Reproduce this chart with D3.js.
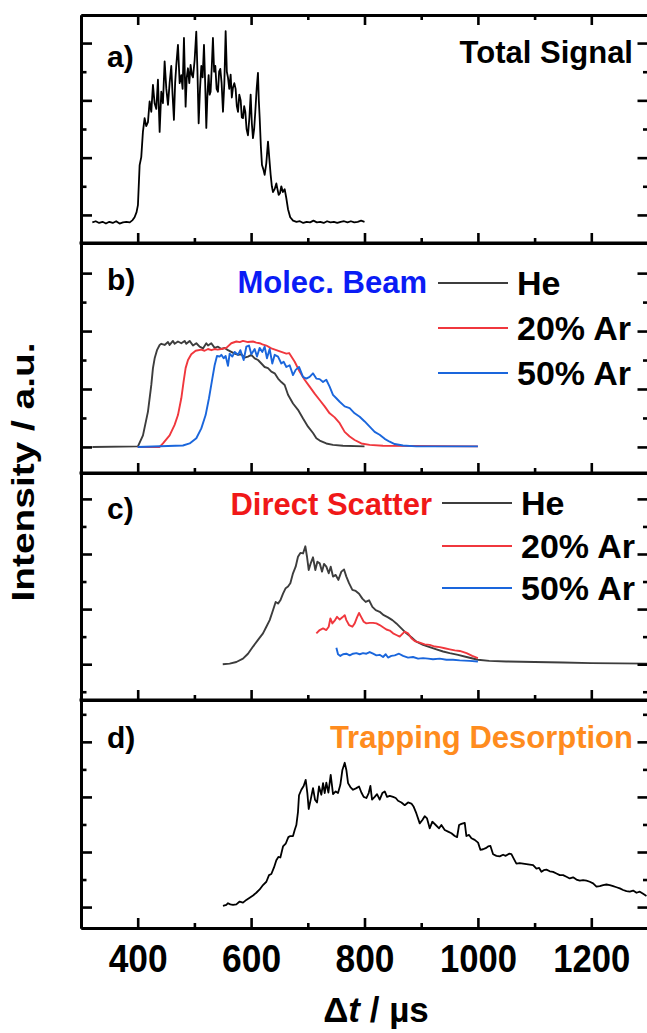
<!DOCTYPE html>
<html>
<head>
<meta charset="utf-8">
<script src="https://cdnjs.cloudflare.com/ajax/libs/d3/7.8.5/d3.min.js"></script>
<style>
	html, body { margin: 0; padding: 0; background: #fff; }
	svg text { font-family: "Liberation Sans", Arial, Helvetica, sans-serif; font-weight: bold; }
</style>
</head>
<body>
<svg id="chart" width="647" height="1033"></svg>
<script>
"use strict";

// time axis, in microseconds
const xMajorTicks = [400, 600, 800, 1000, 1200];
const xMinorTicks = [500, 700, 900, 1100];
const legendNames = ["He", "20% Ar", "50% Ar"];

// [t (µs), intensity (a.u.)]
const totalSignal = [[320,-0.13],[326,-0.11],[332,-0.14],[338,-0.12],[344,-0.15],[350,-0.12],[356,-0.14],[362,-0.11],[368,-0.15],[374,-0.13],[380,-0.12],[386,-0.13],[391,-0.09],[394.5,-0.04],[398,0.05],[400.4,0.17],[403.4,0.87],[406.3,1.01],[409.2,1.45],[412.2,1.69],[415,1.55],[418.1,1.62],[421,1.98],[424,1.8],[426.9,2.27],[429.8,1.95],[432.8,1.85],[435.7,2.36],[438.7,1.45],[441.6,2.15],[444.5,1.95],[447.5,2.68],[450.5,2.2],[453.4,1.92],[456.3,2.3],[459.2,2.6],[461.5,2.1],[463.9,1.66],[466,2.3],[468.1,2.62],[471,2.97],[474,2.3],[476.9,2.44],[479.2,2.2],[481.6,3.09],[484.5,1.89],[486.5,2.4],[488.6,2.56],[491,2.3],[493.3,2.62],[495.4,2.45],[497.5,2.4],[500.4,2.7],[503.3,3.2],[505.4,2.5],[507.5,1.6],[509.9,2.2],[512.2,2.6],[514.5,2.4],[516.9,2.97],[519,2.3],[521,1.52],[523,2.1],[525.1,2.44],[526.9,2.1],[528.6,2.15],[530.7,2.6],[532.7,3.09],[534.8,2.5],[536.9,2.6],[539.2,2.2],[541.6,2.15],[543.6,2.5],[545.7,2.55],[548,2.3],[550.4,1.8],[552.8,2.3],[555.1,3.21],[557.2,2.5],[559.2,2.4],[561.5,2.2],[563.9,2.45],[566,2.05],[568,2.22],[570.4,2.3],[572.7,2.2],[574.8,1.9],[576.9,1.8],[579.2,2.1],[581.6,2.0],[583.6,1.7],[585.7,1.69],[587.8,1.9],[589.8,1.8],[592,1.5],[594.5,1.39],[597,1.7],[599.2,2.1],[601.3,1.6],[603.3,1.34],[605.4,1.5],[607.4,1.8],[609.8,2.2],[612.1,2.48],[613.6,2.0],[615.1,1.7],[617.2,1.2],[619.2,0.87],[621.5,0.8],[623.9,0.7],[626.8,0.9],[629.8,1.28],[632,1.0],[634.5,0.7],[636.6,0.5],[638.6,0.4],[641.5,0.45],[644.5,0.55],[646.5,0.45],[648.6,0.35],[651,0.38],[653.3,0.5],[656,0.4],[659.2,0.45],[662,0.3],[665.1,0.1],[669,-0.04],[674,-0.1],[680,-0.12],[686,-0.11],[692,-0.14],[698,-0.12],[704,-0.13],[710,-0.1],[716,-0.13],[722,-0.12],[728,-0.14],[734,-0.11],[740,-0.13],[746,-0.12],[752,-0.14],[758,-0.12],[764,-0.11],[770,-0.13],[776,-0.11],[782,-0.13],[788,-0.12],[794,-0.1],[800,-0.12]];

const beamHe = [[320,0],[400.4,0.01],[409.3,0.2],[418.1,0.61],[424,1.07],[426.9,1.36],[429.9,1.53],[434,1.67],[438.7,1.76],[441.6,1.78],[447.5,1.76],[453.4,1.81],[456.3,1.76],[462.2,1.83],[465.1,1.78],[471,1.82],[476.9,1.79],[482.8,1.83],[485.7,1.78],[491.6,1.83],[497.5,1.75],[503.4,1.79],[509.2,1.73],[515.1,1.7],[521,1.79],[524,1.75],[529.8,1.79],[535.7,1.71],[541.6,1.73],[547.5,1.69],[553.4,1.71],[559.2,1.67],[565.1,1.64],[571,1.61],[576.9,1.59],[582.8,1.6],[588.6,1.54],[594.5,1.56],[600.4,1.59],[606.3,1.53],[612.2,1.5],[618.1,1.44],[623.9,1.38],[629.8,1.36],[635.7,1.3],[641.6,1.27],[647.5,1.18],[653.3,1.12],[659.2,1.07],[665.1,0.9],[673.9,0.75],[682.7,0.64],[691.6,0.49],[700.4,0.35],[709.2,0.24],[715.1,0.15],[721,0.11],[732.6,0.06],[744.4,0.035],[762,0.02],[800,0.01]];

const beamAr20 = [[400,0],[438.7,0],[444.6,0.06],[456.3,0.2],[465.1,0.38],[471,0.55],[476.9,0.84],[481,1.13],[484.5,1.36],[488.7,1.5],[494.5,1.6],[502.2,1.66],[512.2,1.68],[518,1.66],[524,1.69],[530,1.67],[535.7,1.69],[541,1.68],[547.5,1.69],[556.3,1.71],[565.1,1.79],[574,1.82],[580,1.81],[585.7,1.83],[594.5,1.81],[603.3,1.82],[609,1.8],[615.1,1.79],[620,1.77],[626.9,1.75],[635.7,1.7],[644.5,1.67],[653.3,1.64],[662.2,1.61],[667,1.62],[671,1.56],[676.9,1.47],[685.6,1.3],[694.4,1.16],[703.2,1.04],[712.1,0.92],[720.9,0.81],[729.7,0.7],[738.5,0.58],[747.4,0.51],[756.2,0.41],[765,0.26],[773.8,0.18],[782.6,0.12],[794.4,0.06],[809.1,0.035],[832.6,0.02],[1000,0.01]];

const beamAr50 = [[400,0],[479.8,0.025],[491.6,0.06],[503.4,0.15],[512.2,0.32],[519.8,0.55],[525.7,0.84],[531.6,1.18],[535.7,1.41],[539.8,1.57],[544.5,1.56],[547.5,1.59],[551.6,1.53],[555.1,1.57],[559.2,1.4],[562.2,1.61],[566.9,1.56],[571,1.64],[576.9,1.59],[581,1.67],[586.9,1.5],[591.6,1.73],[596.3,1.75],[600.4,1.6],[606.3,1.69],[610.4,1.56],[615.1,1.71],[619.8,1.64],[623.9,1.73],[628,1.53],[632.7,1.69],[637.4,1.44],[641.6,1.59],[647.5,1.56],[653.3,1.44],[657.4,1.47],[662.2,1.38],[668,1.41],[673.9,1.24],[678.6,1.33],[684.5,1.38],[691.5,1.21],[697.4,1.18],[703.2,1.21],[709.1,1.27],[715,1.18],[720.9,1.17],[726.8,1.12],[732.6,1.16],[738.5,1.04],[744.4,0.9],[750.3,0.84],[756.2,0.78],[765,0.7],[773.8,0.67],[782.6,0.58],[791.5,0.52],[800.3,0.44],[809.1,0.35],[817.9,0.26],[826.7,0.21],[835.6,0.14],[844.4,0.09],[853.2,0.05],[867.9,0.025],[891.4,0.01],[1000,0.01]];

const scatterHe = [[550,0],[562.2,0.01],[574,0.04],[585.7,0.1],[594.5,0.19],[603.4,0.32],[612.2,0.44],[621,0.56],[626.9,0.68],[632.8,0.8],[638.6,0.98],[643.3,1.13],[647.5,1.1],[651.6,1.16],[656.3,1.28],[661,1.38],[665.1,1.41],[669.2,1.47],[673.9,1.65],[678.6,1.77],[682.7,1.95],[686.9,2.02],[691.6,2.01],[695.7,2.14],[698.6,1.95],[701.6,1.71],[705.1,1.83],[709.2,1.94],[713.3,1.71],[716.9,1.86],[721,1.83],[725.1,1.68],[728.6,1.82],[732.7,1.77],[736.9,1.65],[740.4,1.77],[744.5,1.59],[749.2,1.62],[753.9,1.53],[759.2,1.68],[763.9,1.72],[768,1.59],[772.7,1.47],[778.6,1.35],[784.5,1.33],[790.4,1.28],[796.2,1.19],[802.1,1.13],[808,1.16],[813.9,1.04],[819.8,0.98],[826.8,0.95],[833.9,0.89],[841.5,0.85],[849.2,0.8],[856.2,0.74],[865,0.65],[873.9,0.56],[882.7,0.49],[891.5,0.41],[903.3,0.35],[915,0.31],[926.8,0.27],[938.6,0.23],[950.3,0.2],[965,0.17],[980,0.13],[1000,0.08],[1020,0.06],[1050,0.05],[1100,0.04],[1150,0.03],[1200,0.02],[1250,0.015],[1300,0.01]];

const scatterAr20 = [[715.1,0.56],[721,0.62],[726.9,0.65],[732.7,0.62],[736.9,0.68],[739.8,0.83],[743.3,0.74],[747.4,0.79],[751.6,0.86],[756.3,0.81],[761,0.85],[765.1,0.89],[768,0.8],[772.7,0.71],[778.6,0.68],[782.7,0.74],[786.8,0.85],[790.4,0.93],[794.5,0.85],[798.6,0.77],[803.3,0.74],[809.2,0.75],[815.1,0.75],[821,0.74],[826.8,0.71],[832.7,0.67],[838.6,0.63],[844.5,0.61],[850.4,0.56],[856.2,0.53],[862.1,0.5],[866.8,0.55],[870.9,0.59],[876.8,0.56],[882.7,0.47],[888.6,0.42],[897.4,0.39],[906.2,0.36],[915,0.35],[923.9,0.32],[932.7,0.31],[941.5,0.29],[950.3,0.27],[959.2,0.25],[968,0.24],[980,0.2],[990,0.15],[1000,0.11]];

const scatterAr50 = [[750.4,0.3],[753.3,0.18],[757.4,0.15],[762.1,0.18],[768,0.19],[773.9,0.16],[779.8,0.19],[785.7,0.2],[791.5,0.18],[797.4,0.2],[803.3,0.19],[809.2,0.22],[815.1,0.19],[821,0.16],[826.8,0.17],[832.7,0.13],[837.4,0.18],[841.5,0.12],[847.4,0.15],[853.3,0.16],[860.9,0.19],[868,0.15],[876.8,0.12],[885.6,0.13],[894.5,0.1],[903.3,0.11],[912.1,0.1],[920.9,0.09],[932.7,0.1],[944.5,0.08],[956.2,0.08],[968,0.07],[985,0.06],[1000,0.05]];

const trapping = [[550.4,0.02],[556.3,0.04],[559.3,0.07],[563.4,0.05],[568.1,0.04],[574,0.05],[579.8,0.1],[585.7,0.08],[591.6,0.13],[597.5,0.17],[603.4,0.21],[609.2,0.26],[615.1,0.32],[621,0.4],[626.9,0.46],[631.6,0.58],[635.7,0.6],[640.4,0.72],[644.5,0.85],[648.1,0.91],[651.6,0.9],[656.3,1.1],[661,1.15],[665.7,1.27],[669.2,1.29],[673.9,1.29],[676.9,1.4],[679.8,1.49],[682.7,1.73],[684.5,2.03],[688.6,2.13],[692.7,2.2],[696.3,2.31],[699.2,2.07],[701.6,1.78],[705.1,1.95],[709.2,2.16],[712.7,1.95],[716.3,1.9],[719.8,2.19],[723.9,2.04],[726.9,2.25],[729.8,2.07],[732.7,2.26],[736.3,2.08],[740.4,2.4],[744.5,2.05],[749.2,2.1],[753.3,2.07],[757.4,2.22],[761,2.49],[765.1,2.62],[768,2.49],[771,2.25],[775.1,2.18],[779.8,2.13],[785.7,2.16],[790.4,2.19],[794.5,2.08],[798.6,2.0],[803.3,1.98],[807.4,2.07],[810.4,2.2],[813.3,1.95],[818,2.0],[822.1,2.05],[826.8,1.95],[831.5,2.07],[835.7,2.1],[839.8,2.0],[844.5,2.02],[850.4,2.0],[855.1,1.98],[859.2,1.93],[865.1,1.9],[871,1.85],[876.8,1.9],[882.7,1.88],[886.8,1.82],[891.5,1.7],[897.4,1.52],[902.1,1.58],[906.2,1.65],[910.3,1.61],[915,1.43],[919.7,1.55],[925.6,1.49],[931.5,1.43],[935.6,1.49],[941.5,1.4],[947.4,1.37],[953.3,1.34],[959.2,1.29],[963.3,1.27],[966.8,1.49],[970.9,1.51],[976.8,1.53],[979.7,1.29],[984.4,1.31],[988.6,1.25],[994.4,1.22],[1000.3,1.17],[1004.4,1.04],[1009.1,1.05],[1013.8,1.07],[1018,1.1],[1022.1,1.11],[1026.8,0.96],[1032.7,0.93],[1038.5,0.92],[1044.4,0.95],[1049.1,0.93],[1055,0.97],[1059.1,0.96],[1063.2,0.88],[1067.9,0.79],[1073.8,0.8],[1079.7,0.79],[1085.6,0.78],[1091.5,0.77],[1097.4,0.76],[1103.2,0.7],[1108,0.71],[1112,0.64],[1116.2,0.67],[1120.9,0.68],[1126.8,0.65],[1132.6,0.64],[1138.5,0.61],[1144.4,0.58],[1150.3,0.58],[1156.2,0.55],[1162,0.52],[1167.9,0.54],[1173.8,0.5],[1179.7,0.48],[1185.6,0.49],[1191.5,0.48],[1197.3,0.46],[1203.2,0.43],[1209.1,0.37],[1215,0.38],[1220.9,0.4],[1226.7,0.41],[1232.6,0.4],[1238.5,0.38],[1244.4,0.36],[1250.3,0.34],[1256.1,0.31],[1262,0.29],[1267.9,0.28],[1273.8,0.3],[1279.7,0.26],[1285.6,0.28],[1291.4,0.24],[1297.3,0.2]];

const HE_COLOR = "#3d3d3d";
const AR20_COLOR = "#f0373d";
const AR50_COLOR = "#1a66dc";

const svg = d3.select("#chart");
const x = d3.scaleLinear().domain([300, 1300]).range([81, 648]);
const line = d3.line().x(d => x(d[0]));

const panels = [
	{ id: "a", top: 15, bottom: 243, yDomain: [-0.49, 3.49], label: "a)", labelY: 67,
		title: "Total Signal", titleColor: "#000", titleX: 633, titleY: 63,
		series: [{ data: totalSignal, color: "#000", width: 1.8 }], topTicks: true },
	{ id: "b", top: 243, bottom: 473, yDomain: [-0.45, 3.52], label: "b)", labelY: 290,
		title: "Molec. Beam", titleColor: "#0a1cf5", titleX: 427, titleY: 293,
		series: [{ data: beamHe, color: HE_COLOR, width: 1.9 }, { data: beamAr20, color: AR20_COLOR, width: 1.9 }, { data: beamAr50, color: AR50_COLOR, width: 1.9 }],
		legend: { x1: 438, x2: 508, textX: 517, lineY: [283, 328, 373] } },
	{ id: "c", top: 473, bottom: 700, yDomain: [-0.65, 3.47], label: "c)", labelY: 519,
		title: "Direct Scatter", titleColor: "#f01818", titleX: 432, titleY: 515,
		series: [{ data: scatterHe, color: HE_COLOR, width: 1.9 }, { data: scatterAr20, color: AR20_COLOR, width: 1.9 }, { data: scatterAr50, color: AR50_COLOR, width: 1.9 }],
		legend: { x1: 442, x2: 512, textX: 521, lineY: [503, 546, 588] } },
	{ id: "d", top: 700, bottom: 928, yDomain: [-0.38, 3.76], label: "d)", labelY: 748,
		title: "Trapping Desorption", titleColor: "#ff8c1e", titleX: 633, titleY: 748,
		series: [{ data: trapping, color: "#000", width: 1.8 }], labels: true }
];

function styleAxis(g, width) {
	g.select(".domain").attr("stroke", "#000").attr("stroke-width", 3);
	g.selectAll(".tick line").attr("stroke", "#000").attr("stroke-width", width);
}

for (const p of panels) {
	const y = d3.scaleLinear().domain(p.yDomain).range([p.bottom, p.top]);
	const yMajor = [0, 1, 2, 3];
	const yMinor = [-0.5, 0.5, 1.5, 2.5, 3.5].filter(v => y(v) < p.bottom - 3 && y(v) > p.top + 3);
	const g = svg.append("g").attr("class", `panel ${p.id}`);

	g.append("clipPath").attr("id", `clip-${p.id}`)
		.append("rect").attr("x", 81).attr("y", p.top).attr("width", 567).attr("height", p.bottom - p.top);

	const lineY = line.y(d => y(d[1]));
	g.append("g").attr("clip-path", `url(#clip-${p.id})`)
		.selectAll("path").data(p.series).join("path")
		.attr("d", s => lineY(s.data))
		.attr("fill", "none")
		.attr("stroke", s => s.color)
		.attr("stroke-width", s => s.width)
		.attr("stroke-linejoin", "round");

	// frame with inward ticks
	const bottom = g.append("g").attr("transform", `translate(0,${p.bottom})`)
		.call(d3.axisBottom(x).tickValues(xMajorTicks).tickSizeInner(-10).tickSizeOuter(0)
			.tickFormat(p.labels ? d3.format("d") : ""));
	styleAxis(bottom, 2.6);
	bottom.selectAll(".tick text").attr("y", 44).attr("dy", 0)
		.attr("fill", "#000").attr("font-size", 38).attr("font-family", null)
		.attr("textLength", d => String(d).length > 3 ? 77 : 59)
		.attr("lengthAdjust", "spacingAndGlyphs");
	const bottomMinor = g.append("g").attr("transform", `translate(0,${p.bottom})`)
		.call(d3.axisBottom(x).tickValues(xMinorTicks).tickSizeInner(-5).tickSizeOuter(0).tickFormat(""));
	styleAxis(bottomMinor, 2.6);

	if (p.topTicks) {
		const top = g.append("g").attr("transform", `translate(0,${p.top})`)
			.call(d3.axisTop(x).tickValues(xMajorTicks).tickSizeInner(-10).tickSizeOuter(0).tickFormat(""));
		styleAxis(top, 2.6);
		const topMinor = g.append("g").attr("transform", `translate(0,${p.top})`)
			.call(d3.axisTop(x).tickValues(xMinorTicks).tickSizeInner(-5).tickSizeOuter(0).tickFormat(""));
		styleAxis(topMinor, 2.6);
	} else {
		g.append("line").attr("x1", 79.5).attr("x2", 650).attr("y1", p.top).attr("y2", p.top)
			.attr("stroke", "#000").attr("stroke-width", 3);
	}

	for (const [axisFn, xPos] of [[d3.axisLeft, 81], [d3.axisRight, 648.5]]) {
		const major = g.append("g").attr("transform", `translate(${xPos},0)`)
			.call(axisFn(y).tickValues(yMajor).tickSizeInner(-11).tickSizeOuter(0).tickFormat(""));
		styleAxis(major, 2.6);
		const minor = g.append("g").attr("transform", `translate(${xPos},0)`)
			.call(axisFn(y).tickValues(yMinor).tickSizeInner(-5.5).tickSizeOuter(0).tickFormat(""));
		styleAxis(minor, 2.6);
	}

	g.append("text").attr("x", 107).attr("y", p.labelY)
		.attr("font-size", 30).attr("fill", "#000").text(p.label);

	g.append("text").attr("x", p.titleX).attr("y", p.titleY).attr("text-anchor", "end")
		.attr("font-size", 31).attr("fill", p.titleColor).text(p.title);

	if (p.legend) {
		const lg = g.append("g").attr("class", "legend");
		p.series.forEach((s, i) => {
			const ly = p.legend.lineY[i];
			lg.append("line").attr("x1", p.legend.x1).attr("x2", p.legend.x2)
				.attr("y1", ly).attr("y2", ly)
				.attr("stroke", s.color).attr("stroke-width", 2);
			lg.append("text").attr("x", p.legend.textX).attr("y", ly + 11.5)
				.attr("font-size", 34).attr("fill", "#000").text(legendNames[i]);
		});
	}
}

// axis titles
const xTitle = svg.append("text").attr("x", 376).attr("y", 1022)
	.attr("text-anchor", "middle").attr("font-size", 35).attr("fill", "#000");
xTitle.append("tspan").text("Δ");
xTitle.append("tspan").attr("font-style", "italic").text("t");
xTitle.append("tspan").text(" / µs");

svg.append("text")
	.attr("transform", "translate(34,472) rotate(-90)")
	.attr("text-anchor", "middle").attr("font-size", 31)
	.attr("textLength", 259).attr("lengthAdjust", "spacingAndGlyphs")
	.attr("fill", "#000").text("Intensity / a.u.");
</script>
</body>
</html>
